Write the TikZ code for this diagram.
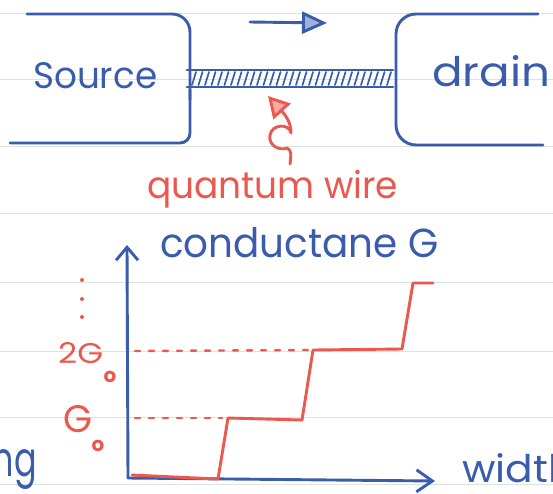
\documentclass[tikz,border=0pt]{standalone}
\usepackage{graphicx}
\usepackage{fontspec}
\setmainfont{Poppins}
\usetikzlibrary{arrows.meta}
\definecolor{penblue}{RGB}{58,92,172}
\definecolor{penred}{RGB}{234,88,78}
\definecolor{paperline}{RGB}{220,228,222}
\definecolor{tipblue}{RGB}{160,178,220}
\definecolor{tipred}{RGB}{246,170,160}
\begin{document}
\begin{tikzpicture}[x=1pt,y=-1pt,
  bluepen/.style={draw=penblue,line width=2.9pt,line cap=round,line join=round},
  redpen/.style={draw=penred,line width=2.9pt,line cap=round,line join=round},
  ruled/.style={draw=paperline,line width=1pt},
  bluetext/.style={text=penblue,inner sep=0pt,anchor=base west},
  redtext/.style={text=penred,inner sep=0pt,anchor=base west},
  subtext/.style={text=penred,inner sep=0pt,anchor=center,font=\fontsize{20}{20}\selectfont\bfseries},
  hatchline/.style={draw=penblue,line width=1.7pt,line cap=round},
  reddash/.style={draw=penred,line width=2.4pt,line cap=round,dash pattern=on 5pt off 9pt},
]
\useasboundingbox[fill=white] (0,0) rectangle (553,493);
% ruled paper
\foreach \yy in {13,79,146,213,282,351,417,484} \draw[ruled] (0,\yy) -- (553,\yy);

% source and drain reservoirs
\draw[bluepen,rounded corners=18pt] (27,14) -- (190,14) -- (190,100);
\draw[bluepen,rounded corners=10pt] (190,90) -- (190,143) -- (10,143);
\draw[bluepen,rounded corners=20pt] (538,14) -- (396,14) -- (396,145) -- (543,145);

% quantum wire
\coordinate (wireL) at (187,70);
\coordinate (wireR) at (393,87);
\draw[bluepen] (wireL) -- (393,70);
\draw[bluepen] (187,87) -- (wireR);
\foreach \xx in {192,198.5,...,388} \draw[hatchline] (\xx,85) -- (\xx+4,72);

% current direction arrow
\coordinate (flowA) at (250,22);
\coordinate (flowB) at (327,23);
\draw[bluepen,-{Triangle[open,fill=tipblue,length=25pt,width=22pt]}] (flowA) -- (flowB);

% red pointer to the wire
\coordinate (tail) at (290,164);
\coordinate (wirept) at (268,96);
\draw[redpen,-{Triangle[open,fill=tipred,length=21pt,width=23pt]}] (tail) .. controls (291,156) and (292,150) .. (287,148) .. controls (280,151) and (268,146) .. (270,135) .. controls (272,124) and (289,123) .. (291,133) .. controls (291,125) and (288,118) .. (wirept);

% texts
\node[bluetext] (source) at (33,88) {\resizebox{124pt}{26pt}{Source}};
\node[bluetext] (drain) at (432,86) {\resizebox{118pt}{31pt}{drain}};
\node[redtext] (qwire) at (147,198) {\resizebox*{251pt}{38pt}{quantum wire}};
\node[bluetext] (cond) at (160,257) {\resizebox{278pt}{30pt}{conductane G}};
\node[bluetext] (wlabel) at (462,482) {\resizebox{112pt}{29pt}{width}};
\node[bluetext,anchor=base east] (ng) at (37,476) {\resizebox*{44pt}{40pt}{ng}};

% axes
\coordinate (origin) at (128,478);
\coordinate (ytip) at (127,245);
\coordinate (xtip) at (435,481);
\draw[bluepen,-{Straight Barb[length=13pt,width=22pt]}] (origin) -- (ytip);
\draw[bluepen,-{Straight Barb[length=16pt,width=22pt]}] (origin) -- (xtip);

% conductance staircase
\draw[redpen] (132,475) -- (218,479) -- (228,418) -- (302,420) -- (313,350) -- (402,349) -- (413,283) -- (433,283);
\draw[reddash] (135,418) -- (222,418);
\draw[reddash] (135,351) -- (310,350);

% axis labels
\node[redtext] (g1) at (63,432) {\resizebox{29pt}{27pt}{G}};
\node[subtext] (g1sub) at (98,446) {o};
\node[redtext] (g2) at (58,363) {\resizebox{45pt}{21pt}{2G}};
\node[subtext] (g2sub) at (110,377) {o};
\foreach \yy in {280,299,317} \fill[penred] (82,\yy) circle (2pt);
\end{tikzpicture}
\end{document}
